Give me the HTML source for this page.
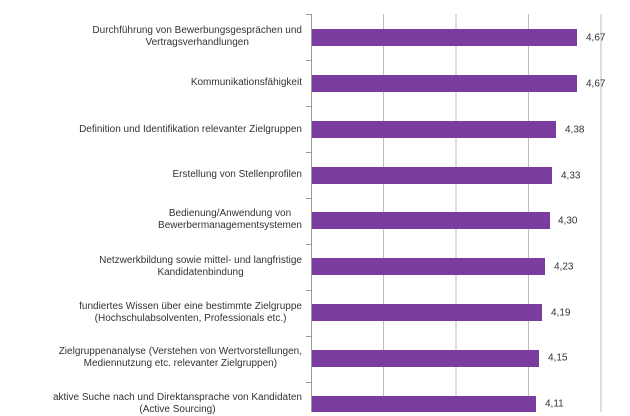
<!DOCTYPE html>
<html><head><meta charset="utf-8"><style>
body{margin:0;width:630px;height:412px;background:#fff;overflow:hidden;position:relative;font-family:"Liberation Sans",sans-serif;}
.l{position:absolute;right:328px;text-align:center;font-size:10px;line-height:12px;color:#333;transform:translateY(-50%);white-space:nowrap}
.v{position:absolute;font-size:10px;color:#333;transform:translateY(-50%)}
</style></head><body>
<svg width="630" height="412" style="position:absolute;left:0;top:0">
<g stroke="#bdbdbd" stroke-width="1">
<line x1="383.5" y1="14" x2="383.5" y2="412"/>
<line x1="456" y1="14" x2="456" y2="412"/>
<line x1="528.5" y1="14" x2="528.5" y2="412"/>
<line x1="601" y1="14" x2="601" y2="412"/>
</g>
<g stroke="#999" stroke-width="1">
<line x1="311.5" y1="14" x2="311.5" y2="412"/>
<line x1="306" y1="14.5" x2="311" y2="14.5"/>
<line x1="306" y1="60.5" x2="311" y2="60.5"/>
<line x1="306" y1="106.5" x2="311" y2="106.5"/>
<line x1="306" y1="152.5" x2="311" y2="152.5"/>
<line x1="306" y1="198.5" x2="311" y2="198.5"/>
<line x1="306" y1="244.5" x2="311" y2="244.5"/>
<line x1="306" y1="290.5" x2="311" y2="290.5"/>
<line x1="306" y1="336.5" x2="311" y2="336.5"/>
<line x1="306" y1="382.5" x2="311" y2="382.5"/>
</g>
<g fill="#7b3c9f">
<rect x="312" y="29" width="265" height="17"/>
<rect x="312" y="75" width="265" height="17"/>
<rect x="312" y="121" width="244" height="17"/>
<rect x="312" y="167" width="240" height="17"/>
<rect x="312" y="212" width="238" height="17"/>
<rect x="312" y="258" width="233" height="17"/>
<rect x="312" y="304" width="230" height="17"/>
<rect x="312" y="350" width="227" height="17"/>
<rect x="312" y="396" width="224" height="17"/>
</g>
</svg>
<div class="l" style="top:37px">Durchführung von Bewerbungsgesprächen und<br>Vertragsverhandlungen</div>
<div class="l" style="top:83px">Kommunikationsfähigkeit</div>
<div class="l" style="top:130px">Definition und Identifikation relevanter Zielgruppen</div>
<div class="l" style="top:175px">Erstellung von Stellenprofilen</div>
<div class="l" style="top:220px">Bedienung/Anwendung von<br>Bewerbermanagementsystemen</div>
<div class="l" style="top:267px">Netzwerkbildung sowie mittel- und langfristige<br>Kandidatenbindung</div>
<div class="l" style="top:313px">fundiertes Wissen über eine bestimmte Zielgruppe<br>(Hochschulabsolventen, Professionals etc.)</div>
<div class="l" style="top:358px">Zielgruppenanalyse (Verstehen von Wertvorstellungen,<br>Mediennutzung etc. relevanter Zielgruppen)</div>
<div class="l" style="top:404px">aktive Suche nach und Direktansprache von Kandidaten<br>(Active Sourcing)</div>
<div class="v" style="left:586px;top:38px">4,67</div>
<div class="v" style="left:586px;top:84px">4,67</div>
<div class="v" style="left:565px;top:130px">4,38</div>
<div class="v" style="left:561px;top:176px">4,33</div>
<div class="v" style="left:558px;top:221px">4,30</div>
<div class="v" style="left:554px;top:267px">4,23</div>
<div class="v" style="left:551px;top:313px">4,19</div>
<div class="v" style="left:548px;top:358px">4,15</div>
<div class="v" style="left:545px;top:404px">4,11</div>
</body></html>
